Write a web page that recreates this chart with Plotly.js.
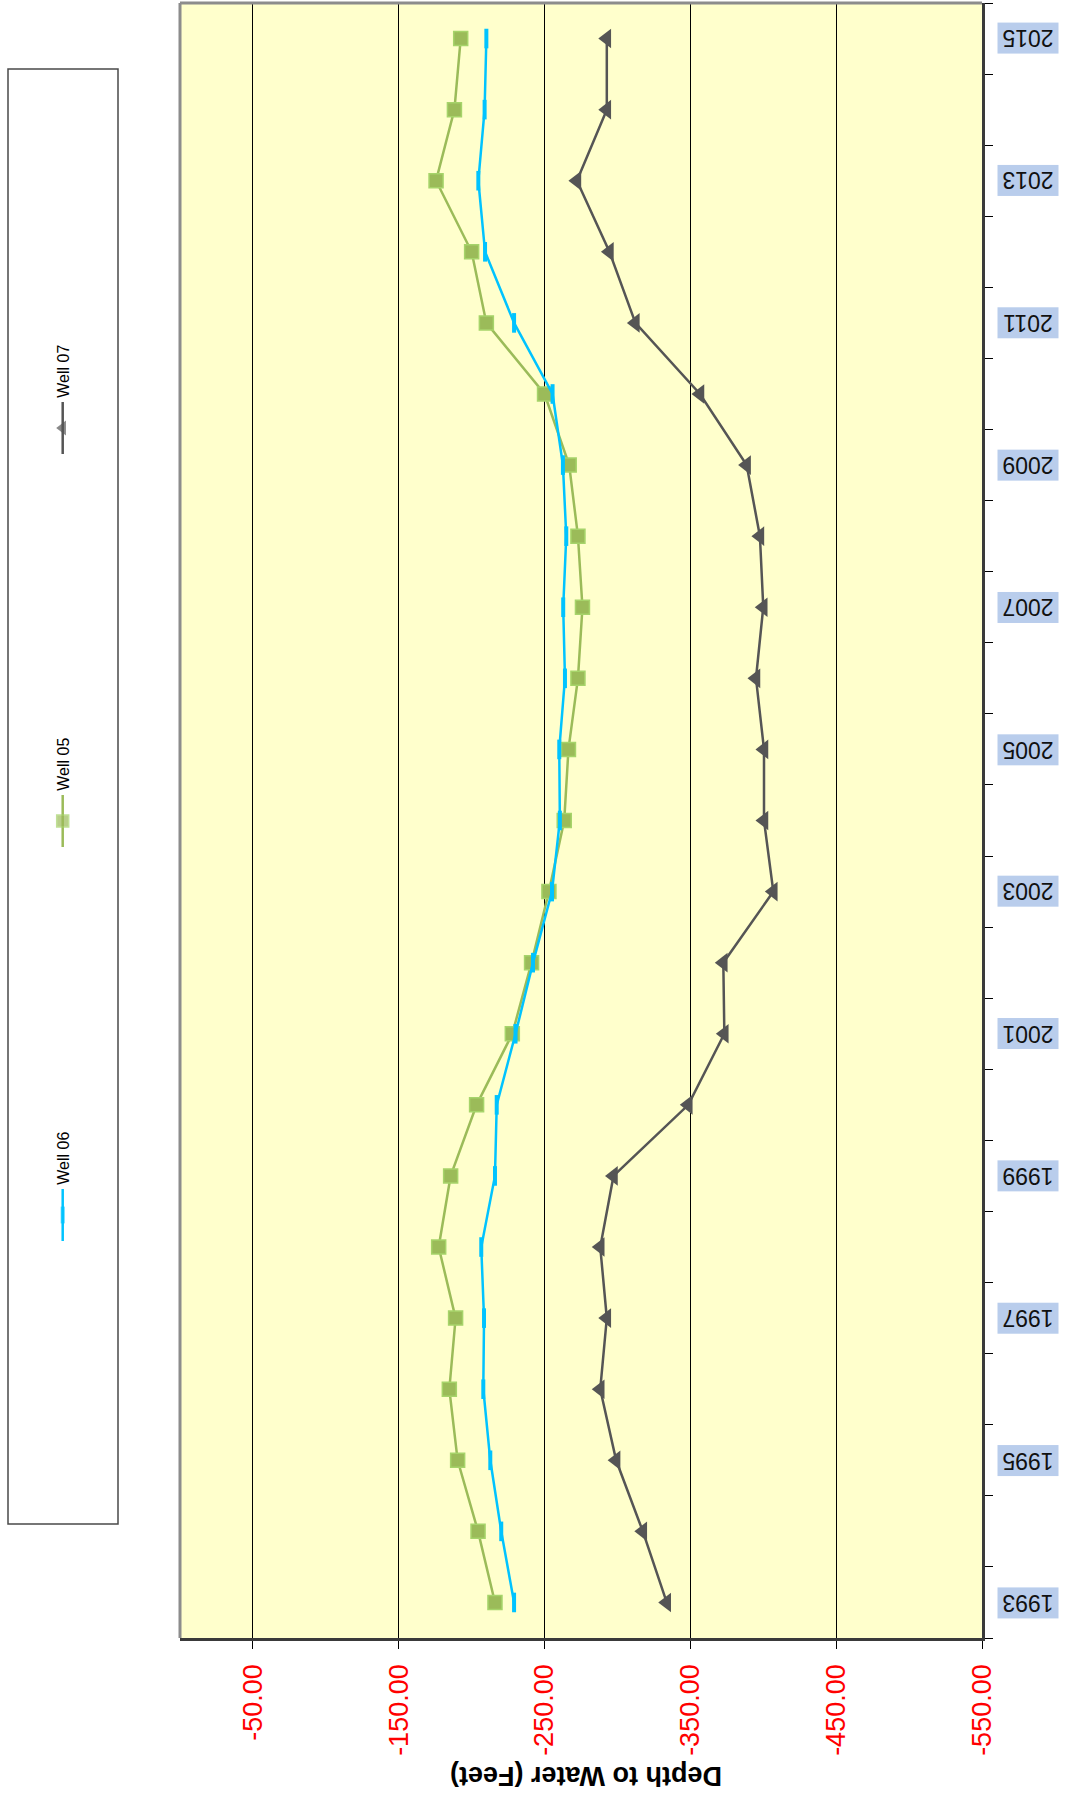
<!DOCTYPE html>
<html>
<head>
<meta charset="utf-8">
<script src="https://cdn.plot.ly/plotly-3.0.1.min.js"></script>
<style>
  html, body { margin: 0; padding: 0; background: #ffffff; }
  #chart { width: 1067px; height: 1793px; }
</style>
</head>
<body>
<div id="chart"></div>
<script>
// ---- Data ----
const years = [1993, 1994, 1995, 1996, 1997, 1998, 1999, 2000, 2001, 2002, 2003, 2004,
               2005, 2006, 2007, 2008, 2009, 2010, 2011, 2012, 2013, 2014, 2015];

const well05 = [-216.0, -204.4, -190.4, -184.7, -189.0, -177.4, -185.6, -203.4, -227.9, -241.1, -253.0, -263.5,
                -266.4, -272.9, -276.0, -272.9, -266.9, -250.0, -210.1, -200.0, -175.6, -188.2, -192.5];

const well06 = [-229.1, -220.3, -212.8, -208.0, -208.5, -206.6, -216.0, -217.2, -230.1, -242.1, -255.1, -260.5,
                -260.1, -264.0, -262.8, -264.9, -262.6, -255.5, -229.1, -209.2, -204.6, -208.9, -210.1];

const well07 = [-333.8, -317.4, -299.1, -288.2, -292.7, -288.2, -297.3, -348.6, -373.3, -372.6, -406.9, -400.5,
                -400.5, -395.0, -400.0, -397.7, -388.6, -356.6, -312.3, -294.5, -272.2, -292.7, -292.7];

const seriesNames = ['Well 06', 'Well 05', 'Well 07'];

const depthTicks = [-50, -150, -250, -350, -450, -550];
const depthTickLabels = ['-50.00', '-150.00', '-250.00', '-350.00', '-450.00', '-550.00'];

const yearTickValues = [1993, 1995, 1997, 1999, 2001, 2003, 2005, 2007, 2009, 2011, 2013, 2015];
const yearTickLabels = ['1993', '1995', '1997', '1999', '2001', '2003', '2005', '2007', '2009', '2011', '2013', '2015'];

const axisTitle = 'Depth to Water (Feet)';

// ---- Geometry (pixels of the 1067x1793 page) ----
const W = 1067, H = 1793;
const plotL = 180, plotR = 982, plotT = 3, plotB = 1638;
const px = v => v / W;
const py = v => 1 - v / H;

const colors = { w05: '#9bbb59', w05edge: '#a6d46a', w06: '#00c3ff', w07: '#555555' };

// boundaries between years for the tick marks
const yearBounds = [];
for (let i = 0; i <= years.length; i++) {
  yearBounds.push(years[0] - 0.5 + i);
}

const traces = [
  {
    x: well05, y: years, name: 'Well 05', type: 'scatter', mode: 'lines+markers',
    xaxis: 'x', yaxis: 'y',
    line: { color: colors.w05, width: 2.5 },
    marker: { symbol: 'square', size: 14, color: colors.w05, line: { color: colors.w05edge, width: 1.5 } },
    showlegend: false, cliponaxis: false
  },
  {
    x: well06, y: years, name: 'Well 06', type: 'scatter', mode: 'lines+markers',
    xaxis: 'x', yaxis: 'y',
    line: { color: colors.w06, width: 2.5 },
    marker: { symbol: 'line-ns', size: 14, color: colors.w06, line: { color: colors.w06, width: 4 } },
    showlegend: false, cliponaxis: false
  },
  {
    x: well07, y: years, name: 'Well 07', type: 'scatter', mode: 'lines+markers',
    xaxis: 'x', yaxis: 'y',
    line: { color: colors.w07, width: 2.5 },
    marker: { symbol: 'triangle-left', size: 17, color: colors.w07, line: { width: 0 } },
    showlegend: false, cliponaxis: false
  }
];

// ---- Custom legend (rotated text), drawn on its own pixel-scaled axes ----
const legendItems = [
  { name: seriesNames[2], lineC: 428, color: colors.w07, symbol: 'triangle-left', size: 13, lw: 0, lc: colors.w07 },
  { name: seriesNames[1], lineC: 821, color: colors.w05, symbol: 'square', size: 12, lw: 1.5, lc: colors.w05edge },
  { name: seriesNames[0], lineC: 1215, color: colors.w06, symbol: 'line-ns', size: 12, lw: 4, lc: colors.w06 }
];
const legX = 62.7;
legendItems.forEach(it => {
  traces.push({
    x: [legX, legX, legX], y: [it.lineC - 26, it.lineC, it.lineC + 26],
    xaxis: 'x2', yaxis: 'y2', type: 'scatter', mode: 'lines+markers',
    line: { color: it.color, width: 2.5 },
    marker: { symbol: it.symbol, size: [0, it.size, 0], color: it.color, line: { color: it.lc, width: it.lw } },
    showlegend: false, hoverinfo: 'skip', cliponaxis: false
  });
});

const annotations = [];
// Year labels (upside down, with blue box)
yearTickValues.forEach((yv, i) => {
  annotations.push({
    xref: 'paper', yref: 'y', x: px(1028), y: yv,
    text: yearTickLabels[i], showarrow: false, textangle: 180,
    xanchor: 'center', yanchor: 'middle',
    font: { family: 'Liberation Sans, Arial, sans-serif', size: 23, color: '#111111' },
    bgcolor: '#b9cdec', borderpad: 1, width: 58, height: 28
  });
});
// Axis title (upside down)
annotations.push({
  xref: 'paper', yref: 'paper', x: px(586), y: py(1776),
  text: '<b>' + axisTitle + '</b>', showarrow: false, textangle: 180,
  xanchor: 'center', yanchor: 'middle',
  font: { family: 'Liberation Sans, Arial, sans-serif', size: 27, color: '#000000' }
});
// Legend texts
legendItems.forEach(it => {
  annotations.push({
    xref: 'x2', yref: 'y2', x: legX, y: it.lineC - 57,
    text: it.name, showarrow: false, textangle: -90,
    xanchor: 'center', yanchor: 'middle',
    font: { family: 'Liberation Sans, Arial, sans-serif', size: 16, color: '#000000' }
  });
});

const shapes = [
  // yellow plot background, under the gridlines
  { type: 'rect', xref: 'x domain', yref: 'y domain', x0: 0, x1: 1, y0: 0, y1: 1,
    line: { width: 0 }, fillcolor: '#ffffcc', layer: 'below' },
  // legend box
  { type: 'rect', xref: 'x2', yref: 'y2', x0: 8, x1: 118, y0: 69, y1: 1524,
    line: { color: '#4a4a4a', width: 1.5 }, fillcolor: 'rgba(0,0,0,0)' },
  // gray top and left plot border
  { type: 'line', xref: 'paper', yref: 'paper', x0: px(plotL), x1: px(plotR), y0: py(plotT), y1: py(plotT),
    line: { color: '#8c8c8c', width: 3 } },
  { type: 'line', xref: 'paper', yref: 'paper', x0: px(plotL), x1: px(plotL), y0: py(plotT), y1: py(plotB),
    line: { color: '#8c8c8c', width: 3 } }
];

const layout = {
  width: W, height: H,
  margin: { l: 0, r: 0, t: 0, b: 0, pad: 0 },
  paper_bgcolor: '#ffffff',
  plot_bgcolor: 'rgba(0,0,0,0)',
  showlegend: false,
  xaxis: {
    domain: [px(plotL), px(plotR)],
    range: [0, -550], autorange: false,
    tickmode: 'array', tickvals: depthTicks, ticktext: depthTickLabels,
    tickangle: -90,
    tickfont: { family: 'Liberation Sans, Arial, sans-serif', size: 27, color: '#ff0000' },
    ticks: 'outside', ticklen: 8, tickcolor: '#000000', tickwidth: 1,
    ticklabelstandoff: 5,
    showgrid: true, gridcolor: '#000000', gridwidth: 1,
    zeroline: false,
    showline: true, linecolor: '#3a3a3a', linewidth: 2.5,
    anchor: 'y', fixedrange: true
  },
  yaxis: {
    domain: [py(plotB), py(plotT)],
    range: [1992.5, 2015.5], autorange: false,
    side: 'right',
    tickmode: 'array', tickvals: yearBounds, ticktext: yearBounds.map(() => ''),
    showticklabels: false,
    ticks: 'outside', ticklen: 8, tickcolor: '#000000', tickwidth: 1,
    showgrid: false, zeroline: false,
    showline: true, linecolor: '#3a3a3a', linewidth: 2.5,
    anchor: 'x', fixedrange: true
  },
  xaxis2: {
    domain: [px(0), px(175)], range: [0, 175], autorange: false,
    visible: false, showgrid: false, zeroline: false, anchor: 'y2', fixedrange: true
  },
  yaxis2: {
    domain: [0, 1], range: [H, 0], autorange: false,
    visible: false, showgrid: false, zeroline: false, anchor: 'x2', fixedrange: true
  },
  annotations: annotations,
  shapes: shapes
};

Plotly.newPlot('chart', traces, layout, { displayModeBar: false, staticPlot: true });
</script>
</body>
</html>
